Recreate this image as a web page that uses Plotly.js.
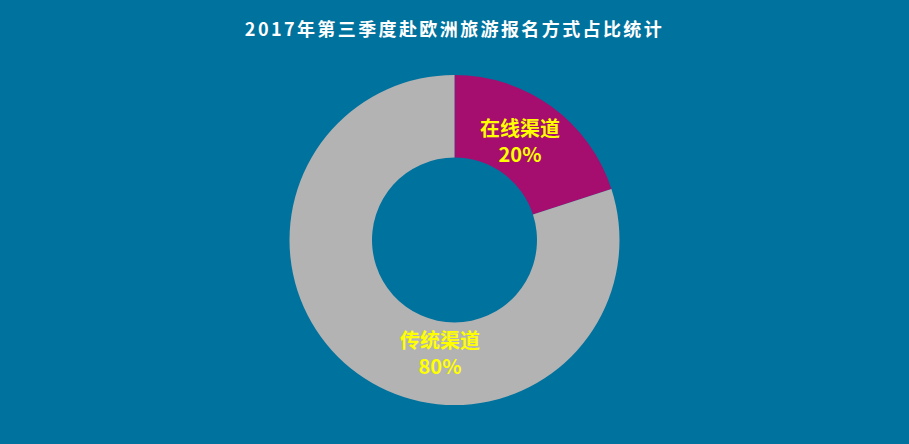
<!DOCTYPE html>
<html><head><meta charset="utf-8">
<script src="https://cdn.plot.ly/plotly-3.0.1.min.js"></script>
<style>html,body{margin:0;padding:0;background:#00729E;} .gtitle{letter-spacing:2.4px;}</style>
</head><body>
<div id="chart" style="width:909px;height:444px;"></div>
<script>
const categories = ['在线渠道', '传统渠道'];
const shares = [20, 80];
const colors = ['#A50D6E', '#B3B3B3'];
const total = shares.reduce((a, b) => a + b, 0);
const labelText = categories.map((c, i) => c + '<br>' + Math.round(shares[i] / total * 100) + '%');

const trace = {
  type: 'pie',
  labels: categories,
  values: shares,
  hole: 0.5,
  sort: false,
  direction: 'clockwise',
  rotation: 0,
  marker: {colors: colors, line: {width: 0}},
  textinfo: 'none',
  showlegend: false,
  hoverinfo: 'none'
};

const labelFont = {family: '"Noto Sans CJK SC", sans-serif', size: 20, color: '#FFFF00', weight: 'bold'};
// label anchor spots inside each ring segment (paper fractions of the pie area)
const labelSpots = [[0.572, 0.803], [0.484, 0.158]];

const layout = {
  width: 909, height: 444,
  paper_bgcolor: '#00729E',
  plot_bgcolor: '#00729E',
  margin: {l: 0, r: 0, t: 75, b: 39},
  title: {
    text: '2017年第三季度赴欧洲旅游报名方式占比统计',
    font: {family: '"Noto Sans CJK SC", sans-serif', size: 18, color: '#FFFFFF', weight: 'bold'},
    x: 0.5, xanchor: 'center', y: 1 - 30/444, yref: 'container', yanchor: 'middle'
  },
  annotations: labelText.map((t, i) => ({
    text: t, xref: 'paper', yref: 'paper',
    x: labelSpots[i][0], y: labelSpots[i][1],
    xanchor: 'center', yanchor: 'middle', showarrow: false,
    font: labelFont, align: 'center'
  }))
};

Plotly.newPlot('chart', [trace], layout, {displayModeBar: false, staticPlot: true});
</script>
</body></html>
